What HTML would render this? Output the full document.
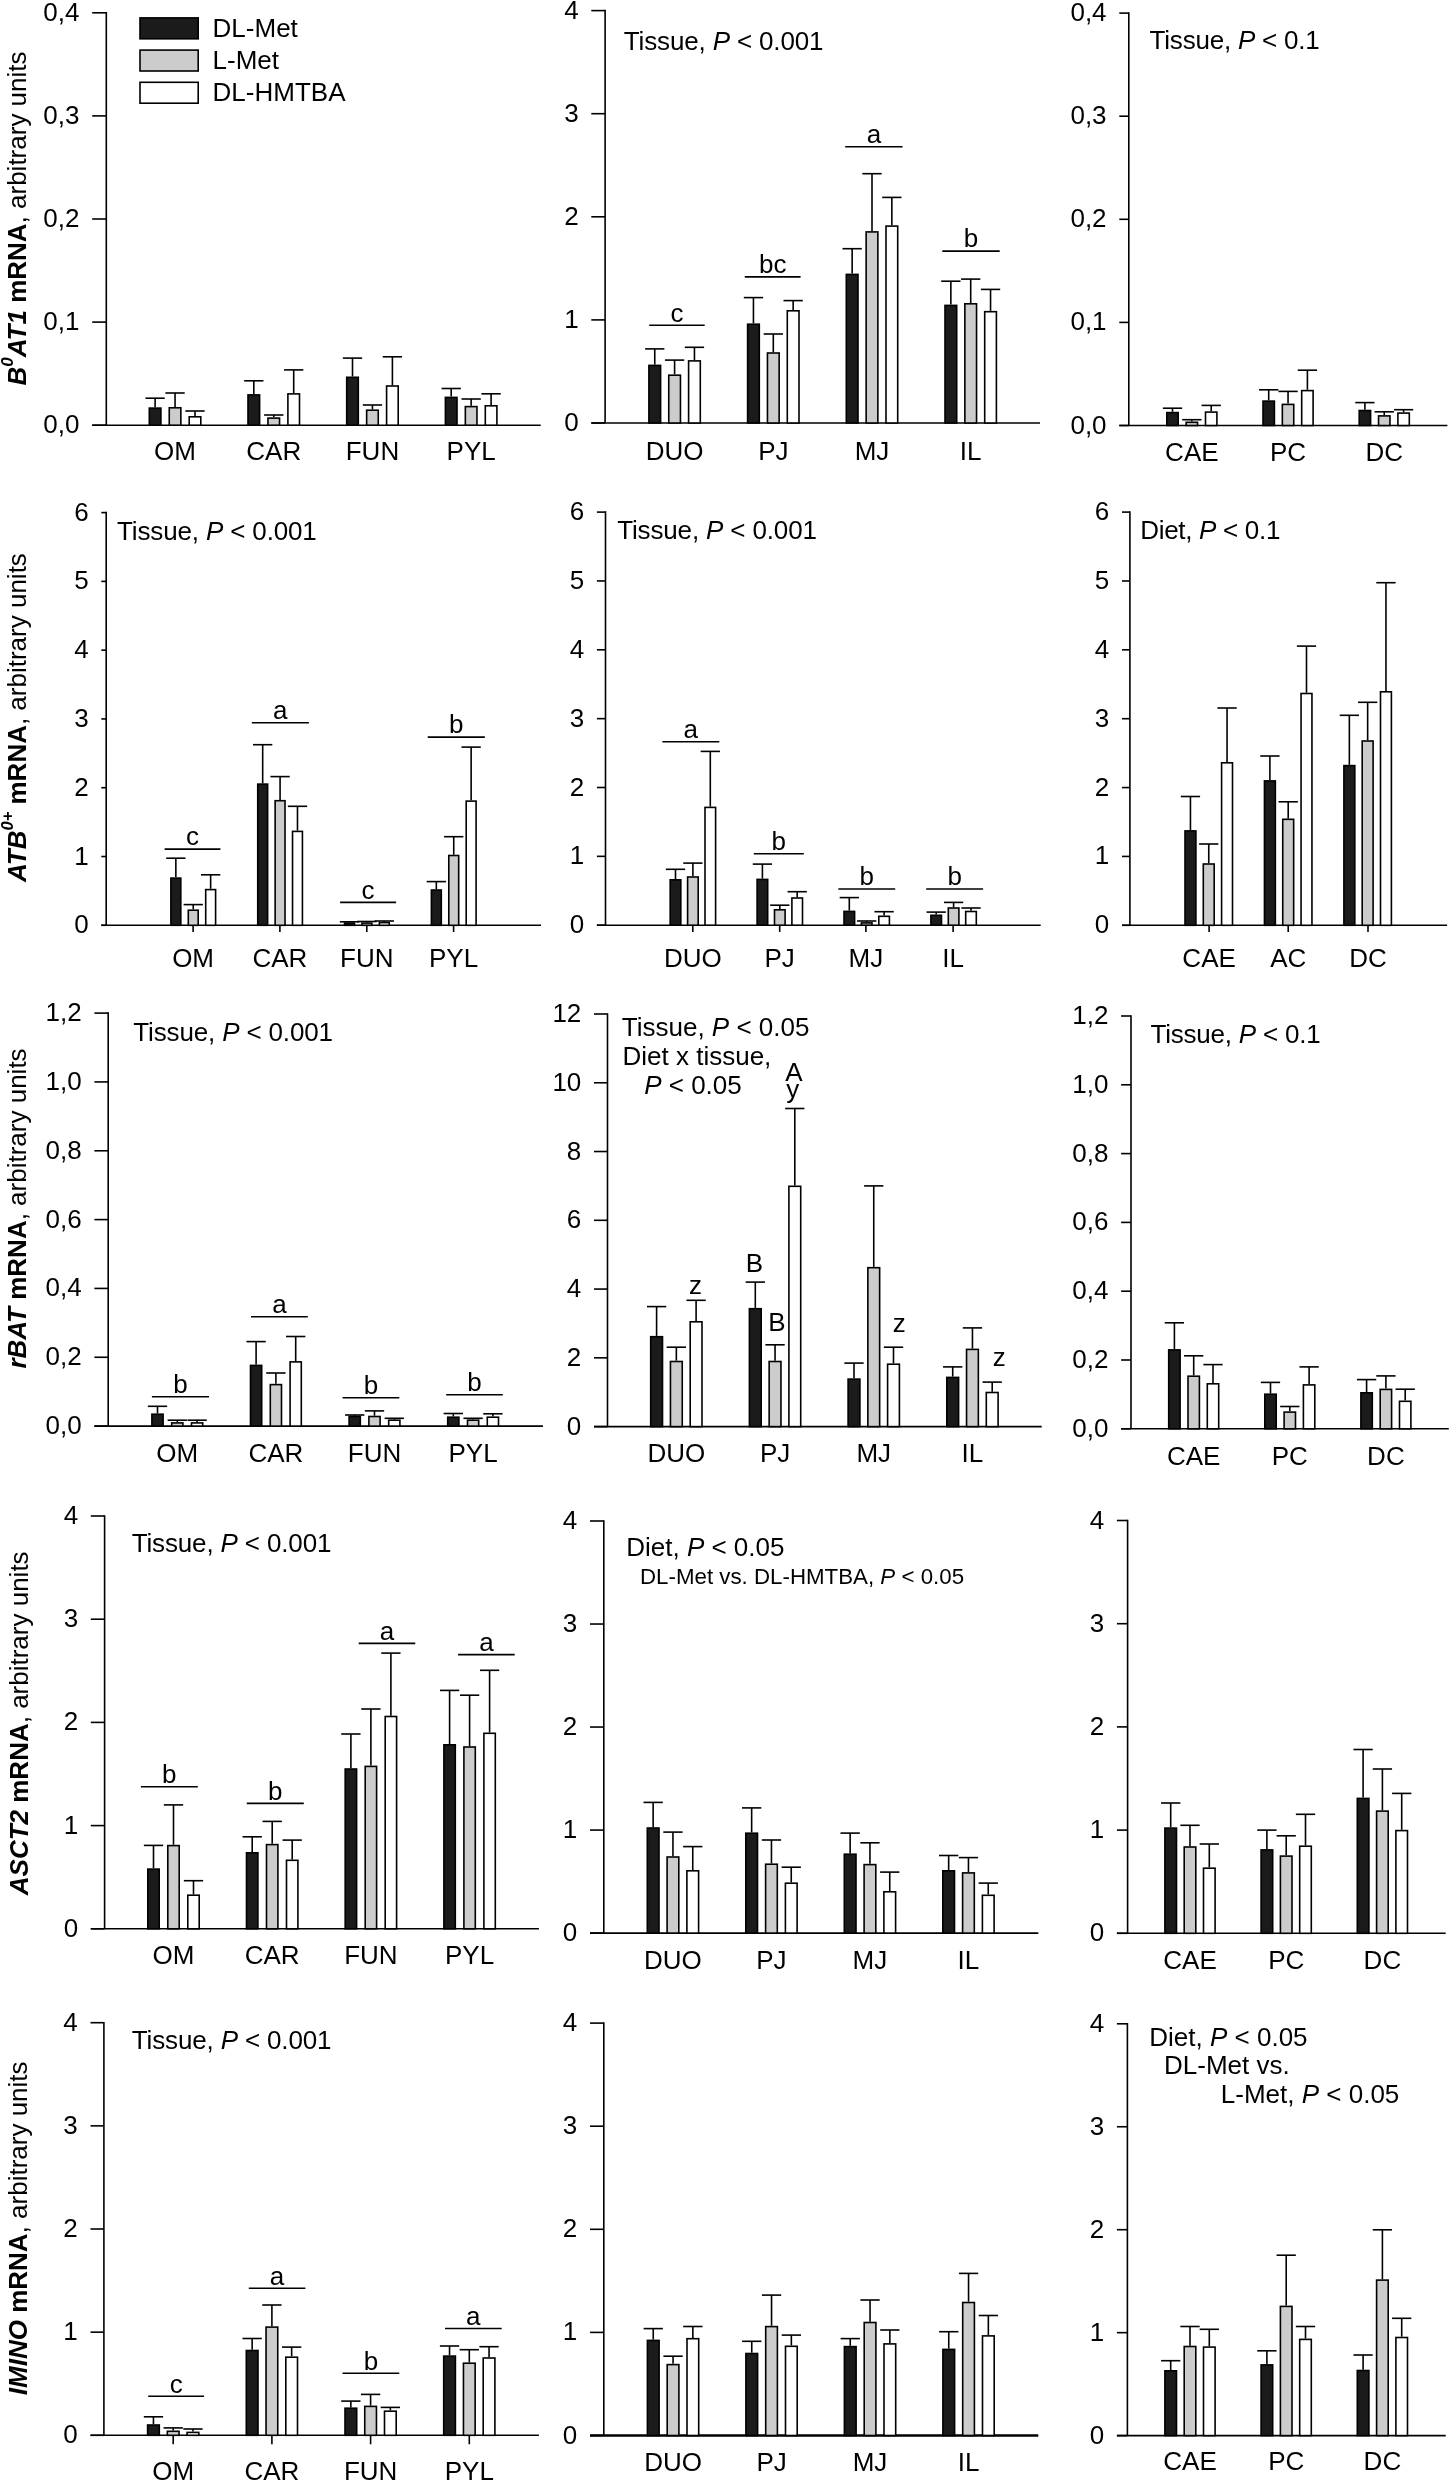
<!DOCTYPE html>
<html><head><meta charset="utf-8"><title>Figure</title>
<style>
html,body{margin:0;padding:0;background:#fff;}
body{width:1450px;height:2481px;overflow:hidden;}
svg{display:block;filter:grayscale(100%);}
text{font-family:"Liberation Sans",sans-serif;fill:#000;}
</style></head>
<body>
<svg width="1450" height="2481" viewBox="0 0 1450 2481" font-size="26" stroke="#000000" stroke-linecap="butt" fill="none">
<rect x="0" y="0" width="1450" height="2481" fill="#fff" stroke="none"/>
<g>
<line x1="106.3" y1="12" x2="106.3" y2="425.2" stroke-width="1.6"/>
<line x1="92.2" y1="425.2" x2="106.3" y2="425.2" stroke-width="1.6"/>
<text stroke="none" x="79.5" y="433.2" text-anchor="end">0,0</text>
<line x1="92.2" y1="322.1" x2="106.3" y2="322.1" stroke-width="1.6"/>
<text stroke="none" x="79.5" y="330.1" text-anchor="end">0,1</text>
<line x1="92.2" y1="219" x2="106.3" y2="219" stroke-width="1.6"/>
<text stroke="none" x="79.5" y="227" text-anchor="end">0,2</text>
<line x1="92.2" y1="115.9" x2="106.3" y2="115.9" stroke-width="1.6"/>
<text stroke="none" x="79.5" y="123.9" text-anchor="end">0,3</text>
<line x1="92.2" y1="12.8" x2="106.3" y2="12.8" stroke-width="1.6"/>
<text stroke="none" x="79.5" y="20.8" text-anchor="end">0,4</text>
<line x1="92.2" y1="425.2" x2="540.7" y2="425.2" stroke-width="1.6"/>
<line x1="155.1" y1="407.3" x2="155.1" y2="398.2" stroke-width="1.6"/>
<line x1="145.45" y1="398.2" x2="164.75" y2="398.2" stroke-width="1.6"/>
<rect x="149.3" y="408.1" width="11.6" height="17.1" fill="#1b1b1b" stroke-width="1.6"/>
<line x1="175.05" y1="407" x2="175.05" y2="393" stroke-width="1.6"/>
<line x1="165.4" y1="393" x2="184.7" y2="393" stroke-width="1.6"/>
<rect x="169.25" y="407.8" width="11.6" height="17.4" fill="#cccccc" stroke-width="1.6"/>
<line x1="195" y1="416" x2="195" y2="411" stroke-width="1.6"/>
<line x1="185.35" y1="411" x2="204.65" y2="411" stroke-width="1.6"/>
<rect x="189.2" y="416.8" width="11.6" height="8.4" fill="#ffffff" stroke-width="1.6"/>
<line x1="253.8" y1="394.1" x2="253.8" y2="380.8" stroke-width="1.6"/>
<line x1="244.15" y1="380.8" x2="263.45" y2="380.8" stroke-width="1.6"/>
<rect x="248" y="394.9" width="11.6" height="30.3" fill="#1b1b1b" stroke-width="1.6"/>
<line x1="273.75" y1="417.3" x2="273.75" y2="415" stroke-width="1.6"/>
<line x1="264.1" y1="415" x2="283.4" y2="415" stroke-width="1.6"/>
<rect x="267.95" y="418.1" width="11.6" height="7.1" fill="#cccccc" stroke-width="1.6"/>
<line x1="293.7" y1="393.1" x2="293.7" y2="369.9" stroke-width="1.6"/>
<line x1="284.05" y1="369.9" x2="303.35" y2="369.9" stroke-width="1.6"/>
<rect x="287.9" y="393.9" width="11.6" height="31.3" fill="#ffffff" stroke-width="1.6"/>
<line x1="352.5" y1="376.5" x2="352.5" y2="358.1" stroke-width="1.6"/>
<line x1="342.85" y1="358.1" x2="362.15" y2="358.1" stroke-width="1.6"/>
<rect x="346.7" y="377.3" width="11.6" height="47.9" fill="#1b1b1b" stroke-width="1.6"/>
<line x1="372.45" y1="409.4" x2="372.45" y2="405" stroke-width="1.6"/>
<line x1="362.8" y1="405" x2="382.1" y2="405" stroke-width="1.6"/>
<rect x="366.65" y="410.2" width="11.6" height="15" fill="#cccccc" stroke-width="1.6"/>
<line x1="392.4" y1="385.2" x2="392.4" y2="356.8" stroke-width="1.6"/>
<line x1="382.75" y1="356.8" x2="402.05" y2="356.8" stroke-width="1.6"/>
<rect x="386.6" y="386" width="11.6" height="39.2" fill="#ffffff" stroke-width="1.6"/>
<line x1="451.2" y1="396.6" x2="451.2" y2="388.5" stroke-width="1.6"/>
<line x1="441.55" y1="388.5" x2="460.85" y2="388.5" stroke-width="1.6"/>
<rect x="445.4" y="397.4" width="11.6" height="27.8" fill="#1b1b1b" stroke-width="1.6"/>
<line x1="471.15" y1="405.8" x2="471.15" y2="399" stroke-width="1.6"/>
<line x1="461.5" y1="399" x2="480.8" y2="399" stroke-width="1.6"/>
<rect x="465.35" y="406.6" width="11.6" height="18.6" fill="#cccccc" stroke-width="1.6"/>
<line x1="491.1" y1="405" x2="491.1" y2="393.8" stroke-width="1.6"/>
<line x1="481.45" y1="393.8" x2="500.75" y2="393.8" stroke-width="1.6"/>
<rect x="485.3" y="405.8" width="11.6" height="19.4" fill="#ffffff" stroke-width="1.6"/>
<text stroke="none" x="175.05" y="460.4" text-anchor="middle">OM</text>
<text stroke="none" x="273.75" y="460.4" text-anchor="middle">CAR</text>
<text stroke="none" x="372.45" y="460.4" text-anchor="middle">FUN</text>
<text stroke="none" x="471.15" y="460.4" text-anchor="middle">PYL</text>
<line x1="605.1" y1="9.8" x2="605.1" y2="423" stroke-width="1.6"/>
<line x1="591.3" y1="423" x2="605.1" y2="423" stroke-width="1.6"/>
<text stroke="none" x="578.6" y="431" text-anchor="end">0</text>
<line x1="591.3" y1="319.9" x2="605.1" y2="319.9" stroke-width="1.6"/>
<text stroke="none" x="578.6" y="327.9" text-anchor="end">1</text>
<line x1="591.3" y1="216.8" x2="605.1" y2="216.8" stroke-width="1.6"/>
<text stroke="none" x="578.6" y="224.8" text-anchor="end">2</text>
<line x1="591.3" y1="113.7" x2="605.1" y2="113.7" stroke-width="1.6"/>
<text stroke="none" x="578.6" y="121.7" text-anchor="end">3</text>
<line x1="591.3" y1="10.6" x2="605.1" y2="10.6" stroke-width="1.6"/>
<text stroke="none" x="578.6" y="18.6" text-anchor="end">4</text>
<line x1="591.3" y1="423" x2="1040" y2="423" stroke-width="1.6"/>
<line x1="654.75" y1="364.6" x2="654.75" y2="348.9" stroke-width="1.6"/>
<line x1="645.1" y1="348.9" x2="664.4" y2="348.9" stroke-width="1.6"/>
<rect x="648.9" y="365.4" width="11.7" height="57.6" fill="#1b1b1b" stroke-width="1.6"/>
<line x1="674.6" y1="374.4" x2="674.6" y2="360.1" stroke-width="1.6"/>
<line x1="664.95" y1="360.1" x2="684.25" y2="360.1" stroke-width="1.6"/>
<rect x="668.75" y="375.2" width="11.7" height="47.8" fill="#cccccc" stroke-width="1.6"/>
<line x1="694.45" y1="360.1" x2="694.45" y2="347.3" stroke-width="1.6"/>
<line x1="684.8" y1="347.3" x2="704.1" y2="347.3" stroke-width="1.6"/>
<rect x="688.6" y="360.9" width="11.7" height="62.1" fill="#ffffff" stroke-width="1.6"/>
<line x1="753.45" y1="323.4" x2="753.45" y2="297.6" stroke-width="1.6"/>
<line x1="743.8" y1="297.6" x2="763.1" y2="297.6" stroke-width="1.6"/>
<rect x="747.6" y="324.2" width="11.7" height="98.8" fill="#1b1b1b" stroke-width="1.6"/>
<line x1="773.3" y1="352.2" x2="773.3" y2="334" stroke-width="1.6"/>
<line x1="763.65" y1="334" x2="782.95" y2="334" stroke-width="1.6"/>
<rect x="767.45" y="353" width="11.7" height="70" fill="#cccccc" stroke-width="1.6"/>
<line x1="793.15" y1="310" x2="793.15" y2="300.6" stroke-width="1.6"/>
<line x1="783.5" y1="300.6" x2="802.8" y2="300.6" stroke-width="1.6"/>
<rect x="787.3" y="310.8" width="11.7" height="112.2" fill="#ffffff" stroke-width="1.6"/>
<line x1="852.15" y1="273.6" x2="852.15" y2="248.7" stroke-width="1.6"/>
<line x1="842.5" y1="248.7" x2="861.8" y2="248.7" stroke-width="1.6"/>
<rect x="846.3" y="274.4" width="11.7" height="148.6" fill="#1b1b1b" stroke-width="1.6"/>
<line x1="872" y1="231.1" x2="872" y2="173.7" stroke-width="1.6"/>
<line x1="862.35" y1="173.7" x2="881.65" y2="173.7" stroke-width="1.6"/>
<rect x="866.15" y="231.9" width="11.7" height="191.1" fill="#cccccc" stroke-width="1.6"/>
<line x1="891.85" y1="225.3" x2="891.85" y2="197.4" stroke-width="1.6"/>
<line x1="882.2" y1="197.4" x2="901.5" y2="197.4" stroke-width="1.6"/>
<rect x="886" y="226.1" width="11.7" height="196.9" fill="#ffffff" stroke-width="1.6"/>
<line x1="950.85" y1="304.6" x2="950.85" y2="281.2" stroke-width="1.6"/>
<line x1="941.2" y1="281.2" x2="960.5" y2="281.2" stroke-width="1.6"/>
<rect x="945" y="305.4" width="11.7" height="117.6" fill="#1b1b1b" stroke-width="1.6"/>
<line x1="970.7" y1="303" x2="970.7" y2="279.1" stroke-width="1.6"/>
<line x1="961.05" y1="279.1" x2="980.35" y2="279.1" stroke-width="1.6"/>
<rect x="964.85" y="303.8" width="11.7" height="119.2" fill="#cccccc" stroke-width="1.6"/>
<line x1="990.55" y1="310.9" x2="990.55" y2="289.4" stroke-width="1.6"/>
<line x1="980.9" y1="289.4" x2="1000.2" y2="289.4" stroke-width="1.6"/>
<rect x="984.7" y="311.7" width="11.7" height="111.3" fill="#ffffff" stroke-width="1.6"/>
<text stroke="none" x="674.6" y="459.6" text-anchor="middle">DUO</text>
<text stroke="none" x="773.3" y="459.6" text-anchor="middle">PJ</text>
<text stroke="none" x="872" y="459.6" text-anchor="middle">MJ</text>
<text stroke="none" x="970.7" y="459.6" text-anchor="middle">IL</text>
<line x1="649.2" y1="325.2" x2="704.7" y2="325.2" stroke-width="1.6"/>
<text stroke="none" x="676.95" y="321.5" text-anchor="middle">c</text>
<line x1="744.8" y1="276.9" x2="800.6" y2="276.9" stroke-width="1.6"/>
<text stroke="none" x="772.7" y="273.2" text-anchor="middle">bc</text>
<line x1="845.2" y1="146.7" x2="902.6" y2="146.7" stroke-width="1.6"/>
<text stroke="none" x="873.9" y="143" text-anchor="middle">a</text>
<line x1="942.3" y1="251.1" x2="999.7" y2="251.1" stroke-width="1.6"/>
<text stroke="none" x="971" y="247.4" text-anchor="middle">b</text>
<text stroke="none" x="623.8" y="49.7" letter-spacing="-0.15">Tissue, <tspan font-style="italic">P</tspan> &lt; 0.001</text>
<line x1="1128.8" y1="12.3" x2="1128.8" y2="425.5" stroke-width="1.6"/>
<line x1="1119.3" y1="425.5" x2="1128.8" y2="425.5" stroke-width="1.6"/>
<text stroke="none" x="1106.6" y="433.5" text-anchor="end">0,0</text>
<line x1="1119.3" y1="322.4" x2="1128.8" y2="322.4" stroke-width="1.6"/>
<text stroke="none" x="1106.6" y="330.4" text-anchor="end">0,1</text>
<line x1="1119.3" y1="219.3" x2="1128.8" y2="219.3" stroke-width="1.6"/>
<text stroke="none" x="1106.6" y="227.3" text-anchor="end">0,2</text>
<line x1="1119.3" y1="116.2" x2="1128.8" y2="116.2" stroke-width="1.6"/>
<text stroke="none" x="1106.6" y="124.2" text-anchor="end">0,3</text>
<line x1="1119.3" y1="13.1" x2="1128.8" y2="13.1" stroke-width="1.6"/>
<text stroke="none" x="1106.6" y="21.1" text-anchor="end">0,4</text>
<line x1="1119.3" y1="425.5" x2="1447.4" y2="425.5" stroke-width="1.6"/>
<line x1="1172.5" y1="411.8" x2="1172.5" y2="408.2" stroke-width="1.6"/>
<line x1="1162.85" y1="408.2" x2="1182.15" y2="408.2" stroke-width="1.6"/>
<rect x="1166.8" y="412.6" width="11.4" height="12.9" fill="#1b1b1b" stroke-width="1.6"/>
<line x1="1191.85" y1="421.5" x2="1191.85" y2="419.7" stroke-width="1.6"/>
<line x1="1182.2" y1="419.7" x2="1201.5" y2="419.7" stroke-width="1.6"/>
<rect x="1186.15" y="422.3" width="11.4" height="3.2" fill="#cccccc" stroke-width="1.6"/>
<line x1="1211.2" y1="411.3" x2="1211.2" y2="405.4" stroke-width="1.6"/>
<line x1="1201.55" y1="405.4" x2="1220.85" y2="405.4" stroke-width="1.6"/>
<rect x="1205.5" y="412.1" width="11.4" height="13.4" fill="#ffffff" stroke-width="1.6"/>
<line x1="1268.7" y1="400.3" x2="1268.7" y2="389.8" stroke-width="1.6"/>
<line x1="1259.05" y1="389.8" x2="1278.35" y2="389.8" stroke-width="1.6"/>
<rect x="1263" y="401.1" width="11.4" height="24.4" fill="#1b1b1b" stroke-width="1.6"/>
<line x1="1288.05" y1="403.6" x2="1288.05" y2="391.4" stroke-width="1.6"/>
<line x1="1278.4" y1="391.4" x2="1297.7" y2="391.4" stroke-width="1.6"/>
<rect x="1282.35" y="404.4" width="11.4" height="21.1" fill="#cccccc" stroke-width="1.6"/>
<line x1="1307.4" y1="389.8" x2="1307.4" y2="370.2" stroke-width="1.6"/>
<line x1="1297.75" y1="370.2" x2="1317.05" y2="370.2" stroke-width="1.6"/>
<rect x="1301.7" y="390.6" width="11.4" height="34.9" fill="#ffffff" stroke-width="1.6"/>
<line x1="1364.9" y1="409.7" x2="1364.9" y2="402.6" stroke-width="1.6"/>
<line x1="1355.25" y1="402.6" x2="1374.55" y2="402.6" stroke-width="1.6"/>
<rect x="1359.2" y="410.5" width="11.4" height="15" fill="#1b1b1b" stroke-width="1.6"/>
<line x1="1384.25" y1="415.1" x2="1384.25" y2="411.8" stroke-width="1.6"/>
<line x1="1374.6" y1="411.8" x2="1393.9" y2="411.8" stroke-width="1.6"/>
<rect x="1378.55" y="415.9" width="11.4" height="9.6" fill="#cccccc" stroke-width="1.6"/>
<line x1="1403.6" y1="412.3" x2="1403.6" y2="409.7" stroke-width="1.6"/>
<line x1="1393.95" y1="409.7" x2="1413.25" y2="409.7" stroke-width="1.6"/>
<rect x="1397.9" y="413.1" width="11.4" height="12.4" fill="#ffffff" stroke-width="1.6"/>
<text stroke="none" x="1191.85" y="461.3" text-anchor="middle">CAE</text>
<text stroke="none" x="1288.05" y="461.3" text-anchor="middle">PC</text>
<text stroke="none" x="1384.25" y="461.3" text-anchor="middle">DC</text>
<text stroke="none" x="1149.6" y="49.4" letter-spacing="-0.22">Tissue, <tspan font-style="italic">P</tspan> &lt; 0.1</text>
<line x1="106.2" y1="511.8" x2="106.2" y2="925.3" stroke-width="1.6"/>
<line x1="101.3" y1="925.3" x2="106.2" y2="925.3" stroke-width="1.6"/>
<text stroke="none" x="88.6" y="933.3" text-anchor="end">0</text>
<line x1="101.3" y1="856.52" x2="106.2" y2="856.52" stroke-width="1.6"/>
<text stroke="none" x="88.6" y="864.52" text-anchor="end">1</text>
<line x1="101.3" y1="787.73" x2="106.2" y2="787.73" stroke-width="1.6"/>
<text stroke="none" x="88.6" y="795.73" text-anchor="end">2</text>
<line x1="101.3" y1="718.95" x2="106.2" y2="718.95" stroke-width="1.6"/>
<text stroke="none" x="88.6" y="726.95" text-anchor="end">3</text>
<line x1="101.3" y1="650.17" x2="106.2" y2="650.17" stroke-width="1.6"/>
<text stroke="none" x="88.6" y="658.17" text-anchor="end">4</text>
<line x1="101.3" y1="581.38" x2="106.2" y2="581.38" stroke-width="1.6"/>
<text stroke="none" x="88.6" y="589.38" text-anchor="end">5</text>
<line x1="101.3" y1="512.6" x2="106.2" y2="512.6" stroke-width="1.6"/>
<text stroke="none" x="88.6" y="520.6" text-anchor="end">6</text>
<line x1="101.3" y1="925.3" x2="541" y2="925.3" stroke-width="1.6"/>
<line x1="193.1" y1="925.3" x2="193.1" y2="932" stroke-width="1.6"/>
<line x1="279.9" y1="925.3" x2="279.9" y2="932" stroke-width="1.6"/>
<line x1="366.8" y1="925.3" x2="366.8" y2="932" stroke-width="1.6"/>
<line x1="453.6" y1="925.3" x2="453.6" y2="932" stroke-width="1.6"/>
<line x1="175.85" y1="877.3" x2="175.85" y2="858.2" stroke-width="1.6"/>
<line x1="166.2" y1="858.2" x2="185.5" y2="858.2" stroke-width="1.6"/>
<rect x="170.9" y="878.1" width="9.9" height="47.2" fill="#1b1b1b" stroke-width="1.6"/>
<line x1="193.25" y1="909.4" x2="193.25" y2="904.6" stroke-width="1.6"/>
<line x1="183.6" y1="904.6" x2="202.9" y2="904.6" stroke-width="1.6"/>
<rect x="188.3" y="910.2" width="9.9" height="15.1" fill="#cccccc" stroke-width="1.6"/>
<line x1="210.65" y1="888.8" x2="210.65" y2="874.8" stroke-width="1.6"/>
<line x1="201" y1="874.8" x2="220.3" y2="874.8" stroke-width="1.6"/>
<rect x="205.7" y="889.6" width="9.9" height="35.7" fill="#ffffff" stroke-width="1.6"/>
<line x1="262.68" y1="783.3" x2="262.68" y2="744.7" stroke-width="1.6"/>
<line x1="253.03" y1="744.7" x2="272.33" y2="744.7" stroke-width="1.6"/>
<rect x="257.73" y="784.1" width="9.9" height="141.2" fill="#1b1b1b" stroke-width="1.6"/>
<line x1="280.08" y1="799.9" x2="280.08" y2="776.6" stroke-width="1.6"/>
<line x1="270.43" y1="776.6" x2="289.73" y2="776.6" stroke-width="1.6"/>
<rect x="275.13" y="800.7" width="9.9" height="124.6" fill="#cccccc" stroke-width="1.6"/>
<line x1="297.48" y1="830.6" x2="297.48" y2="806.3" stroke-width="1.6"/>
<line x1="287.83" y1="806.3" x2="307.13" y2="806.3" stroke-width="1.6"/>
<rect x="292.53" y="831.4" width="9.9" height="93.9" fill="#ffffff" stroke-width="1.6"/>
<line x1="349.51" y1="922.3" x2="349.51" y2="921.8" stroke-width="1.6"/>
<line x1="339.86" y1="921.8" x2="359.16" y2="921.8" stroke-width="1.6"/>
<rect x="344.56" y="923.1" width="9.9" height="2.2" fill="#1b1b1b" stroke-width="1.6"/>
<line x1="366.91" y1="922.3" x2="366.91" y2="921.5" stroke-width="1.6"/>
<line x1="357.26" y1="921.5" x2="376.56" y2="921.5" stroke-width="1.6"/>
<rect x="361.96" y="923.1" width="9.9" height="2.2" fill="#cccccc" stroke-width="1.6"/>
<line x1="384.31" y1="921.8" x2="384.31" y2="921" stroke-width="1.6"/>
<line x1="374.66" y1="921" x2="393.96" y2="921" stroke-width="1.6"/>
<rect x="379.36" y="922.6" width="9.9" height="2.7" fill="#ffffff" stroke-width="1.6"/>
<line x1="436.34" y1="889.2" x2="436.34" y2="881.6" stroke-width="1.6"/>
<line x1="426.69" y1="881.6" x2="445.99" y2="881.6" stroke-width="1.6"/>
<rect x="431.39" y="890" width="9.9" height="35.3" fill="#1b1b1b" stroke-width="1.6"/>
<line x1="453.74" y1="854.7" x2="453.74" y2="836.7" stroke-width="1.6"/>
<line x1="444.09" y1="836.7" x2="463.39" y2="836.7" stroke-width="1.6"/>
<rect x="448.79" y="855.5" width="9.9" height="69.8" fill="#cccccc" stroke-width="1.6"/>
<line x1="471.14" y1="800.3" x2="471.14" y2="747.1" stroke-width="1.6"/>
<line x1="461.49" y1="747.1" x2="480.79" y2="747.1" stroke-width="1.6"/>
<rect x="466.19" y="801.1" width="9.9" height="124.2" fill="#ffffff" stroke-width="1.6"/>
<text stroke="none" x="193.1" y="967.3" text-anchor="middle">OM</text>
<text stroke="none" x="279.9" y="967.3" text-anchor="middle">CAR</text>
<text stroke="none" x="366.8" y="967.3" text-anchor="middle">FUN</text>
<text stroke="none" x="453.6" y="967.3" text-anchor="middle">PYL</text>
<line x1="164.6" y1="849.1" x2="220.4" y2="849.1" stroke-width="1.6"/>
<text stroke="none" x="192.5" y="845.4" text-anchor="middle">c</text>
<line x1="251.8" y1="722.7" x2="308.9" y2="722.7" stroke-width="1.6"/>
<text stroke="none" x="280.35" y="719" text-anchor="middle">a</text>
<line x1="340.1" y1="902.4" x2="396.1" y2="902.4" stroke-width="1.6"/>
<text stroke="none" x="368.1" y="898.7" text-anchor="middle">c</text>
<line x1="427.7" y1="737.1" x2="484.8" y2="737.1" stroke-width="1.6"/>
<text stroke="none" x="456.25" y="733.4" text-anchor="middle">b</text>
<text stroke="none" x="117.1" y="539.7" letter-spacing="-0.15">Tissue, <tspan font-style="italic">P</tspan> &lt; 0.001</text>
<line x1="605.5" y1="511.3" x2="605.5" y2="925.2" stroke-width="1.6"/>
<line x1="596.9" y1="925.2" x2="605.5" y2="925.2" stroke-width="1.6"/>
<text stroke="none" x="584.2" y="933.2" text-anchor="end">0</text>
<line x1="596.9" y1="856.35" x2="605.5" y2="856.35" stroke-width="1.6"/>
<text stroke="none" x="584.2" y="864.35" text-anchor="end">1</text>
<line x1="596.9" y1="787.5" x2="605.5" y2="787.5" stroke-width="1.6"/>
<text stroke="none" x="584.2" y="795.5" text-anchor="end">2</text>
<line x1="596.9" y1="718.65" x2="605.5" y2="718.65" stroke-width="1.6"/>
<text stroke="none" x="584.2" y="726.65" text-anchor="end">3</text>
<line x1="596.9" y1="649.8" x2="605.5" y2="649.8" stroke-width="1.6"/>
<text stroke="none" x="584.2" y="657.8" text-anchor="end">4</text>
<line x1="596.9" y1="580.95" x2="605.5" y2="580.95" stroke-width="1.6"/>
<text stroke="none" x="584.2" y="588.95" text-anchor="end">5</text>
<line x1="596.9" y1="512.1" x2="605.5" y2="512.1" stroke-width="1.6"/>
<text stroke="none" x="584.2" y="520.1" text-anchor="end">6</text>
<line x1="596.9" y1="925.2" x2="1040.7" y2="925.2" stroke-width="1.6"/>
<line x1="692.8" y1="925.2" x2="692.8" y2="931.9" stroke-width="1.6"/>
<line x1="779.7" y1="925.2" x2="779.7" y2="931.9" stroke-width="1.6"/>
<line x1="865.9" y1="925.2" x2="865.9" y2="931.9" stroke-width="1.6"/>
<line x1="953.1" y1="925.2" x2="953.1" y2="931.9" stroke-width="1.6"/>
<line x1="675.5" y1="879" x2="675.5" y2="869.3" stroke-width="1.6"/>
<line x1="665.85" y1="869.3" x2="685.15" y2="869.3" stroke-width="1.6"/>
<rect x="670.2" y="879.8" width="10.6" height="45.4" fill="#1b1b1b" stroke-width="1.6"/>
<line x1="692.9" y1="876.2" x2="692.9" y2="863.1" stroke-width="1.6"/>
<line x1="683.25" y1="863.1" x2="702.55" y2="863.1" stroke-width="1.6"/>
<rect x="687.6" y="877" width="10.6" height="48.2" fill="#cccccc" stroke-width="1.6"/>
<line x1="710.3" y1="806.6" x2="710.3" y2="751.4" stroke-width="1.6"/>
<line x1="700.65" y1="751.4" x2="719.95" y2="751.4" stroke-width="1.6"/>
<rect x="705" y="807.4" width="10.6" height="117.8" fill="#ffffff" stroke-width="1.6"/>
<line x1="762.4" y1="878.6" x2="762.4" y2="864.1" stroke-width="1.6"/>
<line x1="752.75" y1="864.1" x2="772.05" y2="864.1" stroke-width="1.6"/>
<rect x="757.1" y="879.4" width="10.6" height="45.8" fill="#1b1b1b" stroke-width="1.6"/>
<line x1="779.8" y1="909" x2="779.8" y2="905.2" stroke-width="1.6"/>
<line x1="770.15" y1="905.2" x2="789.45" y2="905.2" stroke-width="1.6"/>
<rect x="774.5" y="909.8" width="10.6" height="15.4" fill="#cccccc" stroke-width="1.6"/>
<line x1="797.2" y1="897.2" x2="797.2" y2="891.7" stroke-width="1.6"/>
<line x1="787.55" y1="891.7" x2="806.85" y2="891.7" stroke-width="1.6"/>
<rect x="791.9" y="898" width="10.6" height="27.2" fill="#ffffff" stroke-width="1.6"/>
<line x1="849.3" y1="910.6" x2="849.3" y2="897.6" stroke-width="1.6"/>
<line x1="839.65" y1="897.6" x2="858.95" y2="897.6" stroke-width="1.6"/>
<rect x="844" y="911.4" width="10.6" height="13.8" fill="#1b1b1b" stroke-width="1.6"/>
<line x1="866.7" y1="922.1" x2="866.7" y2="921" stroke-width="1.6"/>
<line x1="857.05" y1="921" x2="876.35" y2="921" stroke-width="1.6"/>
<rect x="861.4" y="922.9" width="10.6" height="2.3" fill="#cccccc" stroke-width="1.6"/>
<line x1="884.1" y1="915.5" x2="884.1" y2="911.7" stroke-width="1.6"/>
<line x1="874.45" y1="911.7" x2="893.75" y2="911.7" stroke-width="1.6"/>
<rect x="878.8" y="916.3" width="10.6" height="8.9" fill="#ffffff" stroke-width="1.6"/>
<line x1="936.2" y1="914.5" x2="936.2" y2="912.1" stroke-width="1.6"/>
<line x1="926.55" y1="912.1" x2="945.85" y2="912.1" stroke-width="1.6"/>
<rect x="930.9" y="915.3" width="10.6" height="9.9" fill="#1b1b1b" stroke-width="1.6"/>
<line x1="953.6" y1="907.2" x2="953.6" y2="902.4" stroke-width="1.6"/>
<line x1="943.95" y1="902.4" x2="963.25" y2="902.4" stroke-width="1.6"/>
<rect x="948.3" y="908" width="10.6" height="17.2" fill="#cccccc" stroke-width="1.6"/>
<line x1="971" y1="910.7" x2="971" y2="908" stroke-width="1.6"/>
<line x1="961.35" y1="908" x2="980.65" y2="908" stroke-width="1.6"/>
<rect x="965.7" y="911.5" width="10.6" height="13.7" fill="#ffffff" stroke-width="1.6"/>
<text stroke="none" x="692.8" y="966.9" text-anchor="middle">DUO</text>
<text stroke="none" x="779.7" y="966.9" text-anchor="middle">PJ</text>
<text stroke="none" x="865.9" y="966.9" text-anchor="middle">MJ</text>
<text stroke="none" x="953.1" y="966.9" text-anchor="middle">IL</text>
<line x1="662.4" y1="741.7" x2="719.3" y2="741.7" stroke-width="1.6"/>
<text stroke="none" x="690.85" y="738" text-anchor="middle">a</text>
<line x1="753.8" y1="853.8" x2="803.8" y2="853.8" stroke-width="1.6"/>
<text stroke="none" x="778.8" y="850.1" text-anchor="middle">b</text>
<line x1="838.3" y1="889" x2="895.2" y2="889" stroke-width="1.6"/>
<text stroke="none" x="866.75" y="885.3" text-anchor="middle">b</text>
<line x1="926.2" y1="889" x2="983.1" y2="889" stroke-width="1.6"/>
<text stroke="none" x="954.65" y="885.3" text-anchor="middle">b</text>
<text stroke="none" x="617.2" y="539" letter-spacing="-0.15">Tissue, <tspan font-style="italic">P</tspan> &lt; 0.001</text>
<line x1="1129.9" y1="511.3" x2="1129.9" y2="925.3" stroke-width="1.6"/>
<line x1="1122" y1="925.3" x2="1129.9" y2="925.3" stroke-width="1.6"/>
<text stroke="none" x="1109.3" y="933.3" text-anchor="end">0</text>
<line x1="1122" y1="856.43" x2="1129.9" y2="856.43" stroke-width="1.6"/>
<text stroke="none" x="1109.3" y="864.43" text-anchor="end">1</text>
<line x1="1122" y1="787.57" x2="1129.9" y2="787.57" stroke-width="1.6"/>
<text stroke="none" x="1109.3" y="795.57" text-anchor="end">2</text>
<line x1="1122" y1="718.7" x2="1129.9" y2="718.7" stroke-width="1.6"/>
<text stroke="none" x="1109.3" y="726.7" text-anchor="end">3</text>
<line x1="1122" y1="649.83" x2="1129.9" y2="649.83" stroke-width="1.6"/>
<text stroke="none" x="1109.3" y="657.83" text-anchor="end">4</text>
<line x1="1122" y1="580.97" x2="1129.9" y2="580.97" stroke-width="1.6"/>
<text stroke="none" x="1109.3" y="588.97" text-anchor="end">5</text>
<line x1="1122" y1="512.1" x2="1129.9" y2="512.1" stroke-width="1.6"/>
<text stroke="none" x="1109.3" y="520.1" text-anchor="end">6</text>
<line x1="1122" y1="925.3" x2="1447.1" y2="925.3" stroke-width="1.6"/>
<line x1="1209.1" y1="925.3" x2="1209.1" y2="932" stroke-width="1.6"/>
<line x1="1288.2" y1="925.3" x2="1288.2" y2="932" stroke-width="1.6"/>
<line x1="1368" y1="925.3" x2="1368" y2="932" stroke-width="1.6"/>
<line x1="1190.45" y1="830.1" x2="1190.45" y2="796.5" stroke-width="1.6"/>
<line x1="1180.8" y1="796.5" x2="1200.1" y2="796.5" stroke-width="1.6"/>
<rect x="1185" y="830.9" width="10.9" height="94.4" fill="#1b1b1b" stroke-width="1.6"/>
<line x1="1208.75" y1="863.2" x2="1208.75" y2="844" stroke-width="1.6"/>
<line x1="1199.1" y1="844" x2="1218.4" y2="844" stroke-width="1.6"/>
<rect x="1203.3" y="864" width="10.9" height="61.3" fill="#cccccc" stroke-width="1.6"/>
<line x1="1227.05" y1="762" x2="1227.05" y2="708" stroke-width="1.6"/>
<line x1="1217.4" y1="708" x2="1236.7" y2="708" stroke-width="1.6"/>
<rect x="1221.6" y="762.8" width="10.9" height="162.5" fill="#ffffff" stroke-width="1.6"/>
<line x1="1269.9" y1="780.1" x2="1269.9" y2="756" stroke-width="1.6"/>
<line x1="1260.25" y1="756" x2="1279.55" y2="756" stroke-width="1.6"/>
<rect x="1264.45" y="780.9" width="10.9" height="144.4" fill="#1b1b1b" stroke-width="1.6"/>
<line x1="1288.2" y1="818.5" x2="1288.2" y2="801.8" stroke-width="1.6"/>
<line x1="1278.55" y1="801.8" x2="1297.85" y2="801.8" stroke-width="1.6"/>
<rect x="1282.75" y="819.3" width="10.9" height="106" fill="#cccccc" stroke-width="1.6"/>
<line x1="1306.5" y1="692.7" x2="1306.5" y2="646.1" stroke-width="1.6"/>
<line x1="1296.85" y1="646.1" x2="1316.15" y2="646.1" stroke-width="1.6"/>
<rect x="1301.05" y="693.5" width="10.9" height="231.8" fill="#ffffff" stroke-width="1.6"/>
<line x1="1349.35" y1="764.8" x2="1349.35" y2="715.3" stroke-width="1.6"/>
<line x1="1339.7" y1="715.3" x2="1359" y2="715.3" stroke-width="1.6"/>
<rect x="1343.9" y="765.6" width="10.9" height="159.7" fill="#1b1b1b" stroke-width="1.6"/>
<line x1="1367.65" y1="740.2" x2="1367.65" y2="702.3" stroke-width="1.6"/>
<line x1="1358" y1="702.3" x2="1377.3" y2="702.3" stroke-width="1.6"/>
<rect x="1362.2" y="741" width="10.9" height="184.3" fill="#cccccc" stroke-width="1.6"/>
<line x1="1385.95" y1="691" x2="1385.95" y2="582.7" stroke-width="1.6"/>
<line x1="1376.3" y1="582.7" x2="1395.6" y2="582.7" stroke-width="1.6"/>
<rect x="1380.5" y="691.8" width="10.9" height="233.5" fill="#ffffff" stroke-width="1.6"/>
<text stroke="none" x="1209.1" y="967" text-anchor="middle">CAE</text>
<text stroke="none" x="1288.2" y="967" text-anchor="middle">AC</text>
<text stroke="none" x="1368" y="967" text-anchor="middle">DC</text>
<text stroke="none" x="1140.2" y="538.6" letter-spacing="-0.3">Diet, <tspan font-style="italic">P</tspan> &lt; 0.1</text>
<line x1="108.2" y1="1012.3" x2="108.2" y2="1426.1" stroke-width="1.6"/>
<line x1="94.4" y1="1426.1" x2="108.2" y2="1426.1" stroke-width="1.6"/>
<text stroke="none" x="81.7" y="1434.1" text-anchor="end">0,0</text>
<line x1="94.4" y1="1357.27" x2="108.2" y2="1357.27" stroke-width="1.6"/>
<text stroke="none" x="81.7" y="1365.27" text-anchor="end">0,2</text>
<line x1="94.4" y1="1288.43" x2="108.2" y2="1288.43" stroke-width="1.6"/>
<text stroke="none" x="81.7" y="1296.43" text-anchor="end">0,4</text>
<line x1="94.4" y1="1219.6" x2="108.2" y2="1219.6" stroke-width="1.6"/>
<text stroke="none" x="81.7" y="1227.6" text-anchor="end">0,6</text>
<line x1="94.4" y1="1150.77" x2="108.2" y2="1150.77" stroke-width="1.6"/>
<text stroke="none" x="81.7" y="1158.77" text-anchor="end">0,8</text>
<line x1="94.4" y1="1081.93" x2="108.2" y2="1081.93" stroke-width="1.6"/>
<text stroke="none" x="81.7" y="1089.93" text-anchor="end">1,0</text>
<line x1="94.4" y1="1013.1" x2="108.2" y2="1013.1" stroke-width="1.6"/>
<text stroke="none" x="81.7" y="1021.1" text-anchor="end">1,2</text>
<line x1="94.4" y1="1426.1" x2="542.9" y2="1426.1" stroke-width="1.6"/>
<line x1="157.5" y1="1413.4" x2="157.5" y2="1406.3" stroke-width="1.6"/>
<line x1="147.85" y1="1406.3" x2="167.15" y2="1406.3" stroke-width="1.6"/>
<rect x="151.9" y="1414.2" width="11.2" height="11.9" fill="#1b1b1b" stroke-width="1.6"/>
<line x1="177.3" y1="1422.1" x2="177.3" y2="1420.2" stroke-width="1.6"/>
<line x1="167.65" y1="1420.2" x2="186.95" y2="1420.2" stroke-width="1.6"/>
<rect x="171.7" y="1422.9" width="11.2" height="3.2" fill="#cccccc" stroke-width="1.6"/>
<line x1="197.1" y1="1422.1" x2="197.1" y2="1420.2" stroke-width="1.6"/>
<line x1="187.45" y1="1420.2" x2="206.75" y2="1420.2" stroke-width="1.6"/>
<rect x="191.5" y="1422.9" width="11.2" height="3.2" fill="#ffffff" stroke-width="1.6"/>
<line x1="256.1" y1="1364.6" x2="256.1" y2="1341.6" stroke-width="1.6"/>
<line x1="246.45" y1="1341.6" x2="265.75" y2="1341.6" stroke-width="1.6"/>
<rect x="250.5" y="1365.4" width="11.2" height="60.7" fill="#1b1b1b" stroke-width="1.6"/>
<line x1="275.9" y1="1383.8" x2="275.9" y2="1373" stroke-width="1.6"/>
<line x1="266.25" y1="1373" x2="285.55" y2="1373" stroke-width="1.6"/>
<rect x="270.3" y="1384.6" width="11.2" height="41.5" fill="#cccccc" stroke-width="1.6"/>
<line x1="295.7" y1="1361.1" x2="295.7" y2="1336.5" stroke-width="1.6"/>
<line x1="286.05" y1="1336.5" x2="305.35" y2="1336.5" stroke-width="1.6"/>
<rect x="290.1" y="1361.9" width="11.2" height="64.2" fill="#ffffff" stroke-width="1.6"/>
<line x1="354.7" y1="1415.7" x2="354.7" y2="1415" stroke-width="1.6"/>
<line x1="345.05" y1="1415" x2="364.35" y2="1415" stroke-width="1.6"/>
<rect x="349.1" y="1416.5" width="11.2" height="9.6" fill="#1b1b1b" stroke-width="1.6"/>
<line x1="374.5" y1="1415.7" x2="374.5" y2="1410.9" stroke-width="1.6"/>
<line x1="364.85" y1="1410.9" x2="384.15" y2="1410.9" stroke-width="1.6"/>
<rect x="368.9" y="1416.5" width="11.2" height="9.6" fill="#cccccc" stroke-width="1.6"/>
<line x1="394.3" y1="1419.4" x2="394.3" y2="1418.3" stroke-width="1.6"/>
<line x1="384.65" y1="1418.3" x2="403.95" y2="1418.3" stroke-width="1.6"/>
<rect x="388.7" y="1420.2" width="11.2" height="5.9" fill="#ffffff" stroke-width="1.6"/>
<line x1="453.3" y1="1416.4" x2="453.3" y2="1413.5" stroke-width="1.6"/>
<line x1="443.65" y1="1413.5" x2="462.95" y2="1413.5" stroke-width="1.6"/>
<rect x="447.7" y="1417.2" width="11.2" height="8.9" fill="#1b1b1b" stroke-width="1.6"/>
<line x1="473.1" y1="1419.4" x2="473.1" y2="1418.3" stroke-width="1.6"/>
<line x1="463.45" y1="1418.3" x2="482.75" y2="1418.3" stroke-width="1.6"/>
<rect x="467.5" y="1420.2" width="11.2" height="5.9" fill="#cccccc" stroke-width="1.6"/>
<line x1="492.9" y1="1416.4" x2="492.9" y2="1413.8" stroke-width="1.6"/>
<line x1="483.25" y1="1413.8" x2="502.55" y2="1413.8" stroke-width="1.6"/>
<rect x="487.3" y="1417.2" width="11.2" height="8.9" fill="#ffffff" stroke-width="1.6"/>
<text stroke="none" x="177.3" y="1462.2" text-anchor="middle">OM</text>
<text stroke="none" x="275.9" y="1462.2" text-anchor="middle">CAR</text>
<text stroke="none" x="374.5" y="1462.2" text-anchor="middle">FUN</text>
<text stroke="none" x="473.1" y="1462.2" text-anchor="middle">PYL</text>
<line x1="151.9" y1="1396.8" x2="209" y2="1396.8" stroke-width="1.6"/>
<text stroke="none" x="180.45" y="1393.1" text-anchor="middle">b</text>
<line x1="251" y1="1316.7" x2="307.8" y2="1316.7" stroke-width="1.6"/>
<text stroke="none" x="279.4" y="1313" text-anchor="middle">a</text>
<line x1="342.6" y1="1397.8" x2="399.3" y2="1397.8" stroke-width="1.6"/>
<text stroke="none" x="370.95" y="1394.1" text-anchor="middle">b</text>
<line x1="446.2" y1="1394.8" x2="502.8" y2="1394.8" stroke-width="1.6"/>
<text stroke="none" x="474.5" y="1391.1" text-anchor="middle">b</text>
<text stroke="none" x="133.3" y="1041.4" letter-spacing="-0.15">Tissue, <tspan font-style="italic">P</tspan> &lt; 0.001</text>
<line x1="607.5" y1="1013.2" x2="607.5" y2="1426.6" stroke-width="1.6"/>
<line x1="594" y1="1426.6" x2="607.5" y2="1426.6" stroke-width="1.6"/>
<text stroke="none" x="581.3" y="1434.6" text-anchor="end">0</text>
<line x1="594" y1="1357.83" x2="607.5" y2="1357.83" stroke-width="1.6"/>
<text stroke="none" x="581.3" y="1365.83" text-anchor="end">2</text>
<line x1="594" y1="1289.07" x2="607.5" y2="1289.07" stroke-width="1.6"/>
<text stroke="none" x="581.3" y="1297.07" text-anchor="end">4</text>
<line x1="594" y1="1220.3" x2="607.5" y2="1220.3" stroke-width="1.6"/>
<text stroke="none" x="581.3" y="1228.3" text-anchor="end">6</text>
<line x1="594" y1="1151.53" x2="607.5" y2="1151.53" stroke-width="1.6"/>
<text stroke="none" x="581.3" y="1159.53" text-anchor="end">8</text>
<line x1="594" y1="1082.77" x2="607.5" y2="1082.77" stroke-width="1.6"/>
<text stroke="none" x="581.3" y="1090.77" text-anchor="end">10</text>
<line x1="594" y1="1014" x2="607.5" y2="1014" stroke-width="1.6"/>
<text stroke="none" x="581.3" y="1022" text-anchor="end">12</text>
<line x1="594" y1="1426.6" x2="1041.7" y2="1426.6" stroke-width="1.6"/>
<line x1="656.6" y1="1335.9" x2="656.6" y2="1306.6" stroke-width="1.6"/>
<line x1="646.95" y1="1306.6" x2="666.25" y2="1306.6" stroke-width="1.6"/>
<rect x="650.7" y="1336.7" width="11.8" height="89.9" fill="#1b1b1b" stroke-width="1.6"/>
<line x1="676.35" y1="1360.7" x2="676.35" y2="1347.2" stroke-width="1.6"/>
<line x1="666.7" y1="1347.2" x2="686" y2="1347.2" stroke-width="1.6"/>
<rect x="670.45" y="1361.5" width="11.8" height="65.1" fill="#cccccc" stroke-width="1.6"/>
<line x1="696.1" y1="1321" x2="696.1" y2="1300.3" stroke-width="1.6"/>
<line x1="686.45" y1="1300.3" x2="705.75" y2="1300.3" stroke-width="1.6"/>
<rect x="690.2" y="1321.8" width="11.8" height="104.8" fill="#ffffff" stroke-width="1.6"/>
<line x1="755.3" y1="1307.9" x2="755.3" y2="1282.1" stroke-width="1.6"/>
<line x1="745.65" y1="1282.1" x2="764.95" y2="1282.1" stroke-width="1.6"/>
<rect x="749.4" y="1308.7" width="11.8" height="117.9" fill="#1b1b1b" stroke-width="1.6"/>
<line x1="775.05" y1="1360.7" x2="775.05" y2="1344.8" stroke-width="1.6"/>
<line x1="765.4" y1="1344.8" x2="784.7" y2="1344.8" stroke-width="1.6"/>
<rect x="769.15" y="1361.5" width="11.8" height="65.1" fill="#cccccc" stroke-width="1.6"/>
<line x1="794.8" y1="1185.5" x2="794.8" y2="1108.5" stroke-width="1.6"/>
<line x1="785.15" y1="1108.5" x2="804.45" y2="1108.5" stroke-width="1.6"/>
<rect x="788.9" y="1186.3" width="11.8" height="240.3" fill="#ffffff" stroke-width="1.6"/>
<line x1="854" y1="1378.3" x2="854" y2="1363.1" stroke-width="1.6"/>
<line x1="844.35" y1="1363.1" x2="863.65" y2="1363.1" stroke-width="1.6"/>
<rect x="848.1" y="1379.1" width="11.8" height="47.5" fill="#1b1b1b" stroke-width="1.6"/>
<line x1="873.75" y1="1266.9" x2="873.75" y2="1185.9" stroke-width="1.6"/>
<line x1="864.1" y1="1185.9" x2="883.4" y2="1185.9" stroke-width="1.6"/>
<rect x="867.85" y="1267.7" width="11.8" height="158.9" fill="#cccccc" stroke-width="1.6"/>
<line x1="893.5" y1="1363.4" x2="893.5" y2="1347.2" stroke-width="1.6"/>
<line x1="883.85" y1="1347.2" x2="903.15" y2="1347.2" stroke-width="1.6"/>
<rect x="887.6" y="1364.2" width="11.8" height="62.4" fill="#ffffff" stroke-width="1.6"/>
<line x1="952.7" y1="1376.6" x2="952.7" y2="1366.9" stroke-width="1.6"/>
<line x1="943.05" y1="1366.9" x2="962.35" y2="1366.9" stroke-width="1.6"/>
<rect x="946.8" y="1377.4" width="11.8" height="49.2" fill="#1b1b1b" stroke-width="1.6"/>
<line x1="972.45" y1="1348.6" x2="972.45" y2="1327.9" stroke-width="1.6"/>
<line x1="962.8" y1="1327.9" x2="982.1" y2="1327.9" stroke-width="1.6"/>
<rect x="966.55" y="1349.4" width="11.8" height="77.2" fill="#cccccc" stroke-width="1.6"/>
<line x1="992.2" y1="1391.7" x2="992.2" y2="1382.1" stroke-width="1.6"/>
<line x1="982.55" y1="1382.1" x2="1001.85" y2="1382.1" stroke-width="1.6"/>
<rect x="986.3" y="1392.5" width="11.8" height="34.1" fill="#ffffff" stroke-width="1.6"/>
<text stroke="none" x="676.35" y="1461.7" text-anchor="middle">DUO</text>
<text stroke="none" x="775.05" y="1461.7" text-anchor="middle">PJ</text>
<text stroke="none" x="873.75" y="1461.7" text-anchor="middle">MJ</text>
<text stroke="none" x="972.45" y="1461.7" text-anchor="middle">IL</text>
<text stroke="none" x="695.6" y="1293.6" text-anchor="middle">z</text>
<text stroke="none" x="754.3" y="1272" text-anchor="middle">B</text>
<text stroke="none" x="776.8" y="1330.6" text-anchor="middle">B</text>
<text stroke="none" x="793.8" y="1080.7" text-anchor="middle">A</text>
<text stroke="none" x="792.8" y="1098" text-anchor="middle">y</text>
<text stroke="none" x="899.2" y="1332.4" text-anchor="middle">z</text>
<text stroke="none" x="999.2" y="1366.2" text-anchor="middle">z</text>
<text stroke="none" x="621.8" y="1035.9">Tissue, <tspan font-style="italic">P</tspan> &lt; 0.05</text>
<text stroke="none" x="622.5" y="1064.9">Diet x tissue,</text>
<text stroke="none" x="644.2" y="1093.8"><tspan font-style="italic">P</tspan> &lt; 0.05</text>
<line x1="1131" y1="1015.2" x2="1131" y2="1428.8" stroke-width="1.6"/>
<line x1="1121.1" y1="1428.8" x2="1131" y2="1428.8" stroke-width="1.6"/>
<text stroke="none" x="1108.4" y="1436.8" text-anchor="end">0,0</text>
<line x1="1121.1" y1="1360" x2="1131" y2="1360" stroke-width="1.6"/>
<text stroke="none" x="1108.4" y="1368" text-anchor="end">0,2</text>
<line x1="1121.1" y1="1291.2" x2="1131" y2="1291.2" stroke-width="1.6"/>
<text stroke="none" x="1108.4" y="1299.2" text-anchor="end">0,4</text>
<line x1="1121.1" y1="1222.4" x2="1131" y2="1222.4" stroke-width="1.6"/>
<text stroke="none" x="1108.4" y="1230.4" text-anchor="end">0,6</text>
<line x1="1121.1" y1="1153.6" x2="1131" y2="1153.6" stroke-width="1.6"/>
<text stroke="none" x="1108.4" y="1161.6" text-anchor="end">0,8</text>
<line x1="1121.1" y1="1084.8" x2="1131" y2="1084.8" stroke-width="1.6"/>
<text stroke="none" x="1108.4" y="1092.8" text-anchor="end">1,0</text>
<line x1="1121.1" y1="1016" x2="1131" y2="1016" stroke-width="1.6"/>
<text stroke="none" x="1108.4" y="1024" text-anchor="end">1,2</text>
<line x1="1121.1" y1="1428.8" x2="1448.8" y2="1428.8" stroke-width="1.6"/>
<line x1="1174.4" y1="1349.1" x2="1174.4" y2="1322.8" stroke-width="1.6"/>
<line x1="1164.75" y1="1322.8" x2="1184.05" y2="1322.8" stroke-width="1.6"/>
<rect x="1168.7" y="1349.9" width="11.4" height="78.9" fill="#1b1b1b" stroke-width="1.6"/>
<line x1="1193.7" y1="1375.4" x2="1193.7" y2="1355.8" stroke-width="1.6"/>
<line x1="1184.05" y1="1355.8" x2="1203.35" y2="1355.8" stroke-width="1.6"/>
<rect x="1188" y="1376.2" width="11.4" height="52.6" fill="#cccccc" stroke-width="1.6"/>
<line x1="1213" y1="1383" x2="1213" y2="1364.6" stroke-width="1.6"/>
<line x1="1203.35" y1="1364.6" x2="1222.65" y2="1364.6" stroke-width="1.6"/>
<rect x="1207.3" y="1383.8" width="11.4" height="45" fill="#ffffff" stroke-width="1.6"/>
<line x1="1270.5" y1="1393.4" x2="1270.5" y2="1382.4" stroke-width="1.6"/>
<line x1="1260.85" y1="1382.4" x2="1280.15" y2="1382.4" stroke-width="1.6"/>
<rect x="1264.8" y="1394.2" width="11.4" height="34.6" fill="#1b1b1b" stroke-width="1.6"/>
<line x1="1289.8" y1="1411.3" x2="1289.8" y2="1406.5" stroke-width="1.6"/>
<line x1="1280.15" y1="1406.5" x2="1299.45" y2="1406.5" stroke-width="1.6"/>
<rect x="1284.1" y="1412.1" width="11.4" height="16.7" fill="#cccccc" stroke-width="1.6"/>
<line x1="1309.1" y1="1384.1" x2="1309.1" y2="1366.9" stroke-width="1.6"/>
<line x1="1299.45" y1="1366.9" x2="1318.75" y2="1366.9" stroke-width="1.6"/>
<rect x="1303.4" y="1384.9" width="11.4" height="43.9" fill="#ffffff" stroke-width="1.6"/>
<line x1="1366.6" y1="1392" x2="1366.6" y2="1379.6" stroke-width="1.6"/>
<line x1="1356.95" y1="1379.6" x2="1376.25" y2="1379.6" stroke-width="1.6"/>
<rect x="1360.9" y="1392.8" width="11.4" height="36" fill="#1b1b1b" stroke-width="1.6"/>
<line x1="1385.9" y1="1388.6" x2="1385.9" y2="1375.9" stroke-width="1.6"/>
<line x1="1376.25" y1="1375.9" x2="1395.55" y2="1375.9" stroke-width="1.6"/>
<rect x="1380.2" y="1389.4" width="11.4" height="39.4" fill="#cccccc" stroke-width="1.6"/>
<line x1="1405.2" y1="1400.5" x2="1405.2" y2="1389.2" stroke-width="1.6"/>
<line x1="1395.55" y1="1389.2" x2="1414.85" y2="1389.2" stroke-width="1.6"/>
<rect x="1399.5" y="1401.3" width="11.4" height="27.5" fill="#ffffff" stroke-width="1.6"/>
<text stroke="none" x="1193.7" y="1465" text-anchor="middle">CAE</text>
<text stroke="none" x="1289.8" y="1465" text-anchor="middle">PC</text>
<text stroke="none" x="1385.9" y="1465" text-anchor="middle">DC</text>
<text stroke="none" x="1150.5" y="1042.6" letter-spacing="-0.22">Tissue, <tspan font-style="italic">P</tspan> &lt; 0.1</text>
<line x1="104.6" y1="1515.2" x2="104.6" y2="1928.8" stroke-width="1.6"/>
<line x1="90.8" y1="1928.8" x2="104.6" y2="1928.8" stroke-width="1.6"/>
<text stroke="none" x="78.1" y="1936.8" text-anchor="end">0</text>
<line x1="90.8" y1="1825.6" x2="104.6" y2="1825.6" stroke-width="1.6"/>
<text stroke="none" x="78.1" y="1833.6" text-anchor="end">1</text>
<line x1="90.8" y1="1722.4" x2="104.6" y2="1722.4" stroke-width="1.6"/>
<text stroke="none" x="78.1" y="1730.4" text-anchor="end">2</text>
<line x1="90.8" y1="1619.2" x2="104.6" y2="1619.2" stroke-width="1.6"/>
<text stroke="none" x="78.1" y="1627.2" text-anchor="end">3</text>
<line x1="90.8" y1="1516" x2="104.6" y2="1516" stroke-width="1.6"/>
<text stroke="none" x="78.1" y="1524" text-anchor="end">4</text>
<line x1="90.8" y1="1928.8" x2="538.9" y2="1928.8" stroke-width="1.6"/>
<line x1="153.5" y1="1868.3" x2="153.5" y2="1845.4" stroke-width="1.6"/>
<line x1="143.85" y1="1845.4" x2="163.15" y2="1845.4" stroke-width="1.6"/>
<rect x="147.8" y="1869.1" width="11.4" height="59.7" fill="#1b1b1b" stroke-width="1.6"/>
<line x1="173.5" y1="1844.8" x2="173.5" y2="1804.9" stroke-width="1.6"/>
<line x1="163.85" y1="1804.9" x2="183.15" y2="1804.9" stroke-width="1.6"/>
<rect x="167.8" y="1845.6" width="11.4" height="83.2" fill="#cccccc" stroke-width="1.6"/>
<line x1="193.5" y1="1894.4" x2="193.5" y2="1880.7" stroke-width="1.6"/>
<line x1="183.85" y1="1880.7" x2="203.15" y2="1880.7" stroke-width="1.6"/>
<rect x="187.8" y="1895.2" width="11.4" height="33.6" fill="#ffffff" stroke-width="1.6"/>
<line x1="252.2" y1="1852" x2="252.2" y2="1836.8" stroke-width="1.6"/>
<line x1="242.55" y1="1836.8" x2="261.85" y2="1836.8" stroke-width="1.6"/>
<rect x="246.5" y="1852.8" width="11.4" height="76" fill="#1b1b1b" stroke-width="1.6"/>
<line x1="272.2" y1="1843.8" x2="272.2" y2="1821.4" stroke-width="1.6"/>
<line x1="262.55" y1="1821.4" x2="281.85" y2="1821.4" stroke-width="1.6"/>
<rect x="266.5" y="1844.6" width="11.4" height="84.2" fill="#cccccc" stroke-width="1.6"/>
<line x1="292.2" y1="1859.5" x2="292.2" y2="1840.1" stroke-width="1.6"/>
<line x1="282.55" y1="1840.1" x2="301.85" y2="1840.1" stroke-width="1.6"/>
<rect x="286.5" y="1860.3" width="11.4" height="68.5" fill="#ffffff" stroke-width="1.6"/>
<line x1="350.9" y1="1768.2" x2="350.9" y2="1734" stroke-width="1.6"/>
<line x1="341.25" y1="1734" x2="360.55" y2="1734" stroke-width="1.6"/>
<rect x="345.2" y="1769" width="11.4" height="159.8" fill="#1b1b1b" stroke-width="1.6"/>
<line x1="370.9" y1="1765.6" x2="370.9" y2="1709" stroke-width="1.6"/>
<line x1="361.25" y1="1709" x2="380.55" y2="1709" stroke-width="1.6"/>
<rect x="365.2" y="1766.4" width="11.4" height="162.4" fill="#cccccc" stroke-width="1.6"/>
<line x1="390.9" y1="1715.7" x2="390.9" y2="1653.1" stroke-width="1.6"/>
<line x1="381.25" y1="1653.1" x2="400.55" y2="1653.1" stroke-width="1.6"/>
<rect x="385.2" y="1716.5" width="11.4" height="212.3" fill="#ffffff" stroke-width="1.6"/>
<line x1="449.6" y1="1744" x2="449.6" y2="1690.4" stroke-width="1.6"/>
<line x1="439.95" y1="1690.4" x2="459.25" y2="1690.4" stroke-width="1.6"/>
<rect x="443.9" y="1744.8" width="11.4" height="184" fill="#1b1b1b" stroke-width="1.6"/>
<line x1="469.6" y1="1746.2" x2="469.6" y2="1695.2" stroke-width="1.6"/>
<line x1="459.95" y1="1695.2" x2="479.25" y2="1695.2" stroke-width="1.6"/>
<rect x="463.9" y="1747" width="11.4" height="181.8" fill="#cccccc" stroke-width="1.6"/>
<line x1="489.6" y1="1732.5" x2="489.6" y2="1670.3" stroke-width="1.6"/>
<line x1="479.95" y1="1670.3" x2="499.25" y2="1670.3" stroke-width="1.6"/>
<rect x="483.9" y="1733.3" width="11.4" height="195.5" fill="#ffffff" stroke-width="1.6"/>
<text stroke="none" x="173.5" y="1964.3" text-anchor="middle">OM</text>
<text stroke="none" x="272.2" y="1964.3" text-anchor="middle">CAR</text>
<text stroke="none" x="370.9" y="1964.3" text-anchor="middle">FUN</text>
<text stroke="none" x="469.6" y="1964.3" text-anchor="middle">PYL</text>
<line x1="140.9" y1="1786.8" x2="197.8" y2="1786.8" stroke-width="1.6"/>
<text stroke="none" x="169.35" y="1783.1" text-anchor="middle">b</text>
<line x1="246.8" y1="1803.4" x2="303.8" y2="1803.4" stroke-width="1.6"/>
<text stroke="none" x="275.3" y="1799.7" text-anchor="middle">b</text>
<line x1="358.7" y1="1643.4" x2="415.3" y2="1643.4" stroke-width="1.6"/>
<text stroke="none" x="387" y="1639.7" text-anchor="middle">a</text>
<line x1="458.1" y1="1654.6" x2="514.7" y2="1654.6" stroke-width="1.6"/>
<text stroke="none" x="486.4" y="1650.9" text-anchor="middle">a</text>
<text stroke="none" x="131.7" y="1551.5" letter-spacing="-0.15">Tissue, <tspan font-style="italic">P</tspan> &lt; 0.001</text>
<line x1="603.8" y1="1520.2" x2="603.8" y2="1933.1" stroke-width="1.6"/>
<line x1="590" y1="1933.1" x2="603.8" y2="1933.1" stroke-width="1.6"/>
<text stroke="none" x="577.3" y="1941.1" text-anchor="end">0</text>
<line x1="590" y1="1830.07" x2="603.8" y2="1830.07" stroke-width="1.6"/>
<text stroke="none" x="577.3" y="1838.07" text-anchor="end">1</text>
<line x1="590" y1="1727.05" x2="603.8" y2="1727.05" stroke-width="1.6"/>
<text stroke="none" x="577.3" y="1735.05" text-anchor="end">2</text>
<line x1="590" y1="1624.03" x2="603.8" y2="1624.03" stroke-width="1.6"/>
<text stroke="none" x="577.3" y="1632.03" text-anchor="end">3</text>
<line x1="590" y1="1521" x2="603.8" y2="1521" stroke-width="1.6"/>
<text stroke="none" x="577.3" y="1529" text-anchor="end">4</text>
<line x1="590" y1="1933.1" x2="1038.3" y2="1933.1" stroke-width="1.6"/>
<line x1="653.15" y1="1827.2" x2="653.15" y2="1802.4" stroke-width="1.6"/>
<line x1="643.5" y1="1802.4" x2="662.8" y2="1802.4" stroke-width="1.6"/>
<rect x="647.3" y="1828" width="11.7" height="105.1" fill="#1b1b1b" stroke-width="1.6"/>
<line x1="672.95" y1="1856.2" x2="672.95" y2="1832.1" stroke-width="1.6"/>
<line x1="663.3" y1="1832.1" x2="682.6" y2="1832.1" stroke-width="1.6"/>
<rect x="667.1" y="1857" width="11.7" height="76.1" fill="#cccccc" stroke-width="1.6"/>
<line x1="692.75" y1="1870" x2="692.75" y2="1846.6" stroke-width="1.6"/>
<line x1="683.1" y1="1846.6" x2="702.4" y2="1846.6" stroke-width="1.6"/>
<rect x="686.9" y="1870.8" width="11.7" height="62.3" fill="#ffffff" stroke-width="1.6"/>
<line x1="751.65" y1="1832.4" x2="751.65" y2="1807.9" stroke-width="1.6"/>
<line x1="742" y1="1807.9" x2="761.3" y2="1807.9" stroke-width="1.6"/>
<rect x="745.8" y="1833.2" width="11.7" height="99.9" fill="#1b1b1b" stroke-width="1.6"/>
<line x1="771.45" y1="1863.4" x2="771.45" y2="1840" stroke-width="1.6"/>
<line x1="761.8" y1="1840" x2="781.1" y2="1840" stroke-width="1.6"/>
<rect x="765.6" y="1864.2" width="11.7" height="68.9" fill="#cccccc" stroke-width="1.6"/>
<line x1="791.25" y1="1882.4" x2="791.25" y2="1867.2" stroke-width="1.6"/>
<line x1="781.6" y1="1867.2" x2="800.9" y2="1867.2" stroke-width="1.6"/>
<rect x="785.4" y="1883.2" width="11.7" height="49.9" fill="#ffffff" stroke-width="1.6"/>
<line x1="850.15" y1="1853.4" x2="850.15" y2="1833.1" stroke-width="1.6"/>
<line x1="840.5" y1="1833.1" x2="859.8" y2="1833.1" stroke-width="1.6"/>
<rect x="844.3" y="1854.2" width="11.7" height="78.9" fill="#1b1b1b" stroke-width="1.6"/>
<line x1="869.95" y1="1863.8" x2="869.95" y2="1842.8" stroke-width="1.6"/>
<line x1="860.3" y1="1842.8" x2="879.6" y2="1842.8" stroke-width="1.6"/>
<rect x="864.1" y="1864.6" width="11.7" height="68.5" fill="#cccccc" stroke-width="1.6"/>
<line x1="889.75" y1="1891" x2="889.75" y2="1872.1" stroke-width="1.6"/>
<line x1="880.1" y1="1872.1" x2="899.4" y2="1872.1" stroke-width="1.6"/>
<rect x="883.9" y="1891.8" width="11.7" height="41.3" fill="#ffffff" stroke-width="1.6"/>
<line x1="948.65" y1="1870" x2="948.65" y2="1855.5" stroke-width="1.6"/>
<line x1="939" y1="1855.5" x2="958.3" y2="1855.5" stroke-width="1.6"/>
<rect x="942.8" y="1870.8" width="11.7" height="62.3" fill="#1b1b1b" stroke-width="1.6"/>
<line x1="968.45" y1="1872.1" x2="968.45" y2="1857.6" stroke-width="1.6"/>
<line x1="958.8" y1="1857.6" x2="978.1" y2="1857.6" stroke-width="1.6"/>
<rect x="962.6" y="1872.9" width="11.7" height="60.2" fill="#cccccc" stroke-width="1.6"/>
<line x1="988.25" y1="1894.5" x2="988.25" y2="1883.1" stroke-width="1.6"/>
<line x1="978.6" y1="1883.1" x2="997.9" y2="1883.1" stroke-width="1.6"/>
<rect x="982.4" y="1895.3" width="11.7" height="37.8" fill="#ffffff" stroke-width="1.6"/>
<text stroke="none" x="672.95" y="1969.3" text-anchor="middle">DUO</text>
<text stroke="none" x="771.45" y="1969.3" text-anchor="middle">PJ</text>
<text stroke="none" x="869.95" y="1969.3" text-anchor="middle">MJ</text>
<text stroke="none" x="968.45" y="1969.3" text-anchor="middle">IL</text>
<text stroke="none" x="626.2" y="1555.6">Diet, <tspan font-style="italic">P</tspan> &lt; 0.05</text>
<text stroke="none" x="640" y="1583.8" font-size="22.3">DL-Met vs. DL-HMTBA, <tspan font-style="italic">P</tspan> &lt; 0.05</text>
<line x1="1127.6" y1="1519.7" x2="1127.6" y2="1933.3" stroke-width="1.6"/>
<line x1="1116.9" y1="1933.3" x2="1127.6" y2="1933.3" stroke-width="1.6"/>
<text stroke="none" x="1104.2" y="1941.3" text-anchor="end">0</text>
<line x1="1116.9" y1="1830.1" x2="1127.6" y2="1830.1" stroke-width="1.6"/>
<text stroke="none" x="1104.2" y="1838.1" text-anchor="end">1</text>
<line x1="1116.9" y1="1726.9" x2="1127.6" y2="1726.9" stroke-width="1.6"/>
<text stroke="none" x="1104.2" y="1734.9" text-anchor="end">2</text>
<line x1="1116.9" y1="1623.7" x2="1127.6" y2="1623.7" stroke-width="1.6"/>
<text stroke="none" x="1104.2" y="1631.7" text-anchor="end">3</text>
<line x1="1116.9" y1="1520.5" x2="1127.6" y2="1520.5" stroke-width="1.6"/>
<text stroke="none" x="1104.2" y="1528.5" text-anchor="end">4</text>
<line x1="1116.9" y1="1933.3" x2="1445.7" y2="1933.3" stroke-width="1.6"/>
<line x1="1170.7" y1="1827.3" x2="1170.7" y2="1803" stroke-width="1.6"/>
<line x1="1161.05" y1="1803" x2="1180.35" y2="1803" stroke-width="1.6"/>
<rect x="1164.9" y="1828.1" width="11.6" height="105.2" fill="#1b1b1b" stroke-width="1.6"/>
<line x1="1190" y1="1846.2" x2="1190" y2="1825.3" stroke-width="1.6"/>
<line x1="1180.35" y1="1825.3" x2="1199.65" y2="1825.3" stroke-width="1.6"/>
<rect x="1184.2" y="1847" width="11.6" height="86.3" fill="#cccccc" stroke-width="1.6"/>
<line x1="1209.3" y1="1867.4" x2="1209.3" y2="1844" stroke-width="1.6"/>
<line x1="1199.65" y1="1844" x2="1218.95" y2="1844" stroke-width="1.6"/>
<rect x="1203.5" y="1868.2" width="11.6" height="65.1" fill="#ffffff" stroke-width="1.6"/>
<line x1="1266.9" y1="1849.1" x2="1266.9" y2="1830.1" stroke-width="1.6"/>
<line x1="1257.25" y1="1830.1" x2="1276.55" y2="1830.1" stroke-width="1.6"/>
<rect x="1261.1" y="1849.9" width="11.6" height="83.4" fill="#1b1b1b" stroke-width="1.6"/>
<line x1="1286.2" y1="1855.3" x2="1286.2" y2="1835.8" stroke-width="1.6"/>
<line x1="1276.55" y1="1835.8" x2="1295.85" y2="1835.8" stroke-width="1.6"/>
<rect x="1280.4" y="1856.1" width="11.6" height="77.2" fill="#cccccc" stroke-width="1.6"/>
<line x1="1305.5" y1="1845.4" x2="1305.5" y2="1814.3" stroke-width="1.6"/>
<line x1="1295.85" y1="1814.3" x2="1315.15" y2="1814.3" stroke-width="1.6"/>
<rect x="1299.7" y="1846.2" width="11.6" height="87.1" fill="#ffffff" stroke-width="1.6"/>
<line x1="1363.1" y1="1797.6" x2="1363.1" y2="1749.5" stroke-width="1.6"/>
<line x1="1353.45" y1="1749.5" x2="1372.75" y2="1749.5" stroke-width="1.6"/>
<rect x="1357.3" y="1798.4" width="11.6" height="134.9" fill="#1b1b1b" stroke-width="1.6"/>
<line x1="1382.4" y1="1810.3" x2="1382.4" y2="1769" stroke-width="1.6"/>
<line x1="1372.75" y1="1769" x2="1392.05" y2="1769" stroke-width="1.6"/>
<rect x="1376.6" y="1811.1" width="11.6" height="122.2" fill="#cccccc" stroke-width="1.6"/>
<line x1="1401.7" y1="1829.8" x2="1401.7" y2="1793.4" stroke-width="1.6"/>
<line x1="1392.05" y1="1793.4" x2="1411.35" y2="1793.4" stroke-width="1.6"/>
<rect x="1395.9" y="1830.6" width="11.6" height="102.7" fill="#ffffff" stroke-width="1.6"/>
<text stroke="none" x="1190" y="1969.2" text-anchor="middle">CAE</text>
<text stroke="none" x="1286.2" y="1969.2" text-anchor="middle">PC</text>
<text stroke="none" x="1382.4" y="1969.2" text-anchor="middle">DC</text>
<line x1="103.9" y1="2021.9" x2="103.9" y2="2435.3" stroke-width="1.6"/>
<line x1="90.5" y1="2435.3" x2="103.9" y2="2435.3" stroke-width="1.6"/>
<text stroke="none" x="77.8" y="2443.3" text-anchor="end">0</text>
<line x1="90.5" y1="2332.15" x2="103.9" y2="2332.15" stroke-width="1.6"/>
<text stroke="none" x="77.8" y="2340.15" text-anchor="end">1</text>
<line x1="90.5" y1="2229" x2="103.9" y2="2229" stroke-width="1.6"/>
<text stroke="none" x="77.8" y="2237" text-anchor="end">2</text>
<line x1="90.5" y1="2125.85" x2="103.9" y2="2125.85" stroke-width="1.6"/>
<text stroke="none" x="77.8" y="2133.85" text-anchor="end">3</text>
<line x1="90.5" y1="2022.7" x2="103.9" y2="2022.7" stroke-width="1.6"/>
<text stroke="none" x="77.8" y="2030.7" text-anchor="end">4</text>
<line x1="90.5" y1="2435.3" x2="538.9" y2="2435.3" stroke-width="1.6"/>
<line x1="173.2" y1="2435.3" x2="173.2" y2="2444.3" stroke-width="1.6"/>
<line x1="271.9" y1="2435.3" x2="271.9" y2="2444.3" stroke-width="1.6"/>
<line x1="370.6" y1="2435.3" x2="370.6" y2="2444.3" stroke-width="1.6"/>
<line x1="469.3" y1="2435.3" x2="469.3" y2="2444.3" stroke-width="1.6"/>
<line x1="153.45" y1="2424.2" x2="153.45" y2="2416.8" stroke-width="1.6"/>
<line x1="143.8" y1="2416.8" x2="163.1" y2="2416.8" stroke-width="1.6"/>
<rect x="147.6" y="2425" width="11.7" height="10.3" fill="#1b1b1b" stroke-width="1.6"/>
<line x1="173.2" y1="2430.5" x2="173.2" y2="2427.9" stroke-width="1.6"/>
<line x1="163.55" y1="2427.9" x2="182.85" y2="2427.9" stroke-width="1.6"/>
<rect x="167.35" y="2431.3" width="11.7" height="4" fill="#cccccc" stroke-width="1.6"/>
<line x1="192.95" y1="2431.6" x2="192.95" y2="2429" stroke-width="1.6"/>
<line x1="183.3" y1="2429" x2="202.6" y2="2429" stroke-width="1.6"/>
<rect x="187.1" y="2432.4" width="11.7" height="2.9" fill="#ffffff" stroke-width="1.6"/>
<line x1="252.15" y1="2349.7" x2="252.15" y2="2338.5" stroke-width="1.6"/>
<line x1="242.5" y1="2338.5" x2="261.8" y2="2338.5" stroke-width="1.6"/>
<rect x="246.3" y="2350.5" width="11.7" height="84.8" fill="#1b1b1b" stroke-width="1.6"/>
<line x1="271.9" y1="2326.3" x2="271.9" y2="2305" stroke-width="1.6"/>
<line x1="262.25" y1="2305" x2="281.55" y2="2305" stroke-width="1.6"/>
<rect x="266.05" y="2327.1" width="11.7" height="108.2" fill="#cccccc" stroke-width="1.6"/>
<line x1="291.65" y1="2356.4" x2="291.65" y2="2347.1" stroke-width="1.6"/>
<line x1="282" y1="2347.1" x2="301.3" y2="2347.1" stroke-width="1.6"/>
<rect x="285.8" y="2357.2" width="11.7" height="78.1" fill="#ffffff" stroke-width="1.6"/>
<line x1="350.85" y1="2407.4" x2="350.85" y2="2401.1" stroke-width="1.6"/>
<line x1="341.2" y1="2401.1" x2="360.5" y2="2401.1" stroke-width="1.6"/>
<rect x="345" y="2408.2" width="11.7" height="27.1" fill="#1b1b1b" stroke-width="1.6"/>
<line x1="370.6" y1="2405.6" x2="370.6" y2="2394.4" stroke-width="1.6"/>
<line x1="360.95" y1="2394.4" x2="380.25" y2="2394.4" stroke-width="1.6"/>
<rect x="364.75" y="2406.4" width="11.7" height="28.9" fill="#cccccc" stroke-width="1.6"/>
<line x1="390.35" y1="2410.4" x2="390.35" y2="2407.4" stroke-width="1.6"/>
<line x1="380.7" y1="2407.4" x2="400" y2="2407.4" stroke-width="1.6"/>
<rect x="384.5" y="2411.2" width="11.7" height="24.1" fill="#ffffff" stroke-width="1.6"/>
<line x1="449.55" y1="2355.3" x2="449.55" y2="2346" stroke-width="1.6"/>
<line x1="439.9" y1="2346" x2="459.2" y2="2346" stroke-width="1.6"/>
<rect x="443.7" y="2356.1" width="11.7" height="79.2" fill="#1b1b1b" stroke-width="1.6"/>
<line x1="469.3" y1="2362.4" x2="469.3" y2="2349.7" stroke-width="1.6"/>
<line x1="459.65" y1="2349.7" x2="478.95" y2="2349.7" stroke-width="1.6"/>
<rect x="463.45" y="2363.2" width="11.7" height="72.1" fill="#cccccc" stroke-width="1.6"/>
<line x1="489.05" y1="2357.2" x2="489.05" y2="2346.7" stroke-width="1.6"/>
<line x1="479.4" y1="2346.7" x2="498.7" y2="2346.7" stroke-width="1.6"/>
<rect x="483.2" y="2358" width="11.7" height="77.3" fill="#ffffff" stroke-width="1.6"/>
<text stroke="none" x="173.2" y="2479.5" text-anchor="middle">OM</text>
<text stroke="none" x="271.9" y="2479.5" text-anchor="middle">CAR</text>
<text stroke="none" x="370.6" y="2479.5" text-anchor="middle">FUN</text>
<text stroke="none" x="469.3" y="2479.5" text-anchor="middle">PYL</text>
<line x1="148.2" y1="2396.3" x2="204.1" y2="2396.3" stroke-width="1.6"/>
<text stroke="none" x="176.15" y="2392.6" text-anchor="middle">c</text>
<line x1="248.8" y1="2288.3" x2="305.4" y2="2288.3" stroke-width="1.6"/>
<text stroke="none" x="277.1" y="2284.6" text-anchor="middle">a</text>
<line x1="342.6" y1="2373.2" x2="399.3" y2="2373.2" stroke-width="1.6"/>
<text stroke="none" x="370.95" y="2369.5" text-anchor="middle">b</text>
<line x1="445" y1="2328.5" x2="501.7" y2="2328.5" stroke-width="1.6"/>
<text stroke="none" x="473.35" y="2324.8" text-anchor="middle">a</text>
<text stroke="none" x="131.8" y="2049.2" letter-spacing="-0.15">Tissue, <tspan font-style="italic">P</tspan> &lt; 0.001</text>
<line x1="603.8" y1="2022.3" x2="603.8" y2="2435.5" stroke-width="1.6"/>
<line x1="590" y1="2435.5" x2="603.8" y2="2435.5" stroke-width="1.6"/>
<text stroke="none" x="577.3" y="2443.5" text-anchor="end">0</text>
<line x1="590" y1="2332.4" x2="603.8" y2="2332.4" stroke-width="1.6"/>
<text stroke="none" x="577.3" y="2340.4" text-anchor="end">1</text>
<line x1="590" y1="2229.3" x2="603.8" y2="2229.3" stroke-width="1.6"/>
<text stroke="none" x="577.3" y="2237.3" text-anchor="end">2</text>
<line x1="590" y1="2126.2" x2="603.8" y2="2126.2" stroke-width="1.6"/>
<text stroke="none" x="577.3" y="2134.2" text-anchor="end">3</text>
<line x1="590" y1="2023.1" x2="603.8" y2="2023.1" stroke-width="1.6"/>
<text stroke="none" x="577.3" y="2031.1" text-anchor="end">4</text>
<line x1="590" y1="2435.5" x2="1038.3" y2="2435.5" stroke-width="2.4"/>
<line x1="653.25" y1="2339.6" x2="653.25" y2="2328.6" stroke-width="1.6"/>
<line x1="643.6" y1="2328.6" x2="662.9" y2="2328.6" stroke-width="1.6"/>
<rect x="647.4" y="2340.4" width="11.7" height="95.1" fill="#1b1b1b" stroke-width="1.6"/>
<line x1="673.05" y1="2363.8" x2="673.05" y2="2356.2" stroke-width="1.6"/>
<line x1="663.4" y1="2356.2" x2="682.7" y2="2356.2" stroke-width="1.6"/>
<rect x="667.2" y="2364.6" width="11.7" height="70.9" fill="#cccccc" stroke-width="1.6"/>
<line x1="692.85" y1="2337.9" x2="692.85" y2="2326.5" stroke-width="1.6"/>
<line x1="683.2" y1="2326.5" x2="702.5" y2="2326.5" stroke-width="1.6"/>
<rect x="687" y="2338.7" width="11.7" height="96.8" fill="#ffffff" stroke-width="1.6"/>
<line x1="751.75" y1="2352.7" x2="751.75" y2="2341.3" stroke-width="1.6"/>
<line x1="742.1" y1="2341.3" x2="761.4" y2="2341.3" stroke-width="1.6"/>
<rect x="745.9" y="2353.5" width="11.7" height="82" fill="#1b1b1b" stroke-width="1.6"/>
<line x1="771.55" y1="2325.8" x2="771.55" y2="2295.1" stroke-width="1.6"/>
<line x1="761.9" y1="2295.1" x2="781.2" y2="2295.1" stroke-width="1.6"/>
<rect x="765.7" y="2326.6" width="11.7" height="108.9" fill="#cccccc" stroke-width="1.6"/>
<line x1="791.35" y1="2345.5" x2="791.35" y2="2335.1" stroke-width="1.6"/>
<line x1="781.7" y1="2335.1" x2="801" y2="2335.1" stroke-width="1.6"/>
<rect x="785.5" y="2346.3" width="11.7" height="89.2" fill="#ffffff" stroke-width="1.6"/>
<line x1="850.25" y1="2345.8" x2="850.25" y2="2338.6" stroke-width="1.6"/>
<line x1="840.6" y1="2338.6" x2="859.9" y2="2338.6" stroke-width="1.6"/>
<rect x="844.4" y="2346.6" width="11.7" height="88.9" fill="#1b1b1b" stroke-width="1.6"/>
<line x1="870.05" y1="2321.7" x2="870.05" y2="2300" stroke-width="1.6"/>
<line x1="860.4" y1="2300" x2="879.7" y2="2300" stroke-width="1.6"/>
<rect x="864.2" y="2322.5" width="11.7" height="113" fill="#cccccc" stroke-width="1.6"/>
<line x1="889.85" y1="2343.1" x2="889.85" y2="2330" stroke-width="1.6"/>
<line x1="880.2" y1="2330" x2="899.5" y2="2330" stroke-width="1.6"/>
<rect x="884" y="2343.9" width="11.7" height="91.6" fill="#ffffff" stroke-width="1.6"/>
<line x1="948.75" y1="2348.6" x2="948.75" y2="2331.7" stroke-width="1.6"/>
<line x1="939.1" y1="2331.7" x2="958.4" y2="2331.7" stroke-width="1.6"/>
<rect x="942.9" y="2349.4" width="11.7" height="86.1" fill="#1b1b1b" stroke-width="1.6"/>
<line x1="968.55" y1="2301.7" x2="968.55" y2="2273.4" stroke-width="1.6"/>
<line x1="958.9" y1="2273.4" x2="978.2" y2="2273.4" stroke-width="1.6"/>
<rect x="962.7" y="2302.5" width="11.7" height="133" fill="#cccccc" stroke-width="1.6"/>
<line x1="988.35" y1="2335.1" x2="988.35" y2="2315.5" stroke-width="1.6"/>
<line x1="978.7" y1="2315.5" x2="998" y2="2315.5" stroke-width="1.6"/>
<rect x="982.5" y="2335.9" width="11.7" height="99.6" fill="#ffffff" stroke-width="1.6"/>
<text stroke="none" x="673.05" y="2470.7" text-anchor="middle">DUO</text>
<text stroke="none" x="771.55" y="2470.7" text-anchor="middle">PJ</text>
<text stroke="none" x="870.05" y="2470.7" text-anchor="middle">MJ</text>
<text stroke="none" x="968.55" y="2470.7" text-anchor="middle">IL</text>
<line x1="1127.4" y1="2023" x2="1127.4" y2="2435.6" stroke-width="1.6"/>
<line x1="1116.9" y1="2435.6" x2="1127.4" y2="2435.6" stroke-width="1.6"/>
<text stroke="none" x="1104.2" y="2443.6" text-anchor="end">0</text>
<line x1="1116.9" y1="2332.65" x2="1127.4" y2="2332.65" stroke-width="1.6"/>
<text stroke="none" x="1104.2" y="2340.65" text-anchor="end">1</text>
<line x1="1116.9" y1="2229.7" x2="1127.4" y2="2229.7" stroke-width="1.6"/>
<text stroke="none" x="1104.2" y="2237.7" text-anchor="end">2</text>
<line x1="1116.9" y1="2126.75" x2="1127.4" y2="2126.75" stroke-width="1.6"/>
<text stroke="none" x="1104.2" y="2134.75" text-anchor="end">3</text>
<line x1="1116.9" y1="2023.8" x2="1127.4" y2="2023.8" stroke-width="1.6"/>
<text stroke="none" x="1104.2" y="2031.8" text-anchor="end">4</text>
<line x1="1116.9" y1="2435.6" x2="1445.7" y2="2435.6" stroke-width="1.6"/>
<line x1="1170.7" y1="2370" x2="1170.7" y2="2360.7" stroke-width="1.6"/>
<line x1="1161.05" y1="2360.7" x2="1180.35" y2="2360.7" stroke-width="1.6"/>
<rect x="1164.9" y="2370.8" width="11.6" height="64.8" fill="#1b1b1b" stroke-width="1.6"/>
<line x1="1190" y1="2345.7" x2="1190" y2="2326.5" stroke-width="1.6"/>
<line x1="1180.35" y1="2326.5" x2="1199.65" y2="2326.5" stroke-width="1.6"/>
<rect x="1184.2" y="2346.5" width="11.6" height="89.1" fill="#cccccc" stroke-width="1.6"/>
<line x1="1209.3" y1="2346.3" x2="1209.3" y2="2329.3" stroke-width="1.6"/>
<line x1="1199.65" y1="2329.3" x2="1218.95" y2="2329.3" stroke-width="1.6"/>
<rect x="1203.5" y="2347.1" width="11.6" height="88.5" fill="#ffffff" stroke-width="1.6"/>
<line x1="1266.9" y1="2364.1" x2="1266.9" y2="2350.8" stroke-width="1.6"/>
<line x1="1257.25" y1="2350.8" x2="1276.55" y2="2350.8" stroke-width="1.6"/>
<rect x="1261.1" y="2364.9" width="11.6" height="70.7" fill="#1b1b1b" stroke-width="1.6"/>
<line x1="1286.2" y1="2305.6" x2="1286.2" y2="2255.2" stroke-width="1.6"/>
<line x1="1276.55" y1="2255.2" x2="1295.85" y2="2255.2" stroke-width="1.6"/>
<rect x="1280.4" y="2306.4" width="11.6" height="129.2" fill="#cccccc" stroke-width="1.6"/>
<line x1="1305.5" y1="2338.6" x2="1305.5" y2="2326.5" stroke-width="1.6"/>
<line x1="1295.85" y1="2326.5" x2="1315.15" y2="2326.5" stroke-width="1.6"/>
<rect x="1299.7" y="2339.4" width="11.6" height="96.2" fill="#ffffff" stroke-width="1.6"/>
<line x1="1363.1" y1="2369.7" x2="1363.1" y2="2355" stroke-width="1.6"/>
<line x1="1353.45" y1="2355" x2="1372.75" y2="2355" stroke-width="1.6"/>
<rect x="1357.3" y="2370.5" width="11.6" height="65.1" fill="#1b1b1b" stroke-width="1.6"/>
<line x1="1382.4" y1="2279.3" x2="1382.4" y2="2229.8" stroke-width="1.6"/>
<line x1="1372.75" y1="2229.8" x2="1392.05" y2="2229.8" stroke-width="1.6"/>
<rect x="1376.6" y="2280.1" width="11.6" height="155.5" fill="#cccccc" stroke-width="1.6"/>
<line x1="1401.7" y1="2336.7" x2="1401.7" y2="2318.3" stroke-width="1.6"/>
<line x1="1392.05" y1="2318.3" x2="1411.35" y2="2318.3" stroke-width="1.6"/>
<rect x="1395.9" y="2337.5" width="11.6" height="98.1" fill="#ffffff" stroke-width="1.6"/>
<text stroke="none" x="1190" y="2470.1" text-anchor="middle">CAE</text>
<text stroke="none" x="1286.2" y="2470.1" text-anchor="middle">PC</text>
<text stroke="none" x="1382.4" y="2470.1" text-anchor="middle">DC</text>
<text stroke="none" x="1149.3" y="2045.5">Diet, <tspan font-style="italic">P</tspan> &lt; 0.05</text>
<text stroke="none" x="1164" y="2074.3">DL-Met vs.</text>
<text stroke="none" x="1220.8" y="2103.4">L-Met, <tspan font-style="italic">P</tspan> &lt; 0.05</text>
<rect x="140" y="17.9" width="58.2" height="20.9" fill="#1b1b1b" stroke-width="1.6"/>
<rect x="140" y="50.1" width="58.2" height="20.9" fill="#cccccc" stroke-width="1.6"/>
<rect x="140" y="82.3" width="58.2" height="20.9" fill="#ffffff" stroke-width="1.6"/>
<text stroke="none" x="212.6" y="37.3">DL-Met</text>
<text stroke="none" x="212.6" y="69.2">L-Met</text>
<text stroke="none" x="212.6" y="100.7">DL-HMTBA</text>
<text stroke="none" x="25.8" y="218.5" text-anchor="middle" transform="rotate(-90 25.8 218.5)"><tspan font-weight="bold"><tspan font-style="italic">B</tspan><tspan font-style="italic" font-size="17" dy="-13">0</tspan><tspan font-style="italic" dy="13">AT1</tspan> mRNA</tspan>, arbitrary units</text>
<text stroke="none" x="26.4" y="717.6" text-anchor="middle" transform="rotate(-90 26.4 717.6)"><tspan font-weight="bold"><tspan font-style="italic">ATB</tspan><tspan font-style="italic" font-size="16.5" dy="-13.2">0+</tspan><tspan dy="13.2"> mRNA</tspan></tspan>, arbitrary units</text>
<text stroke="none" x="26.4" y="1208.5" text-anchor="middle" transform="rotate(-90 26.4 1208.5)"><tspan font-weight="bold"><tspan font-style="italic">rBAT</tspan> mRNA</tspan>, arbitrary units</text>
<text stroke="none" x="27.6" y="1723.3" text-anchor="middle" transform="rotate(-90 27.6 1723.3)"><tspan font-weight="bold"><tspan font-style="italic">ASCT2</tspan> mRNA</tspan>, arbitrary units</text>
<text stroke="none" x="27.5" y="2228.3" text-anchor="middle" transform="rotate(-90 27.5 2228.3)"><tspan font-weight="bold"><tspan font-style="italic">IMINO</tspan> mRNA</tspan>, arbitrary units</text>
</g>
</svg>
</body></html>
